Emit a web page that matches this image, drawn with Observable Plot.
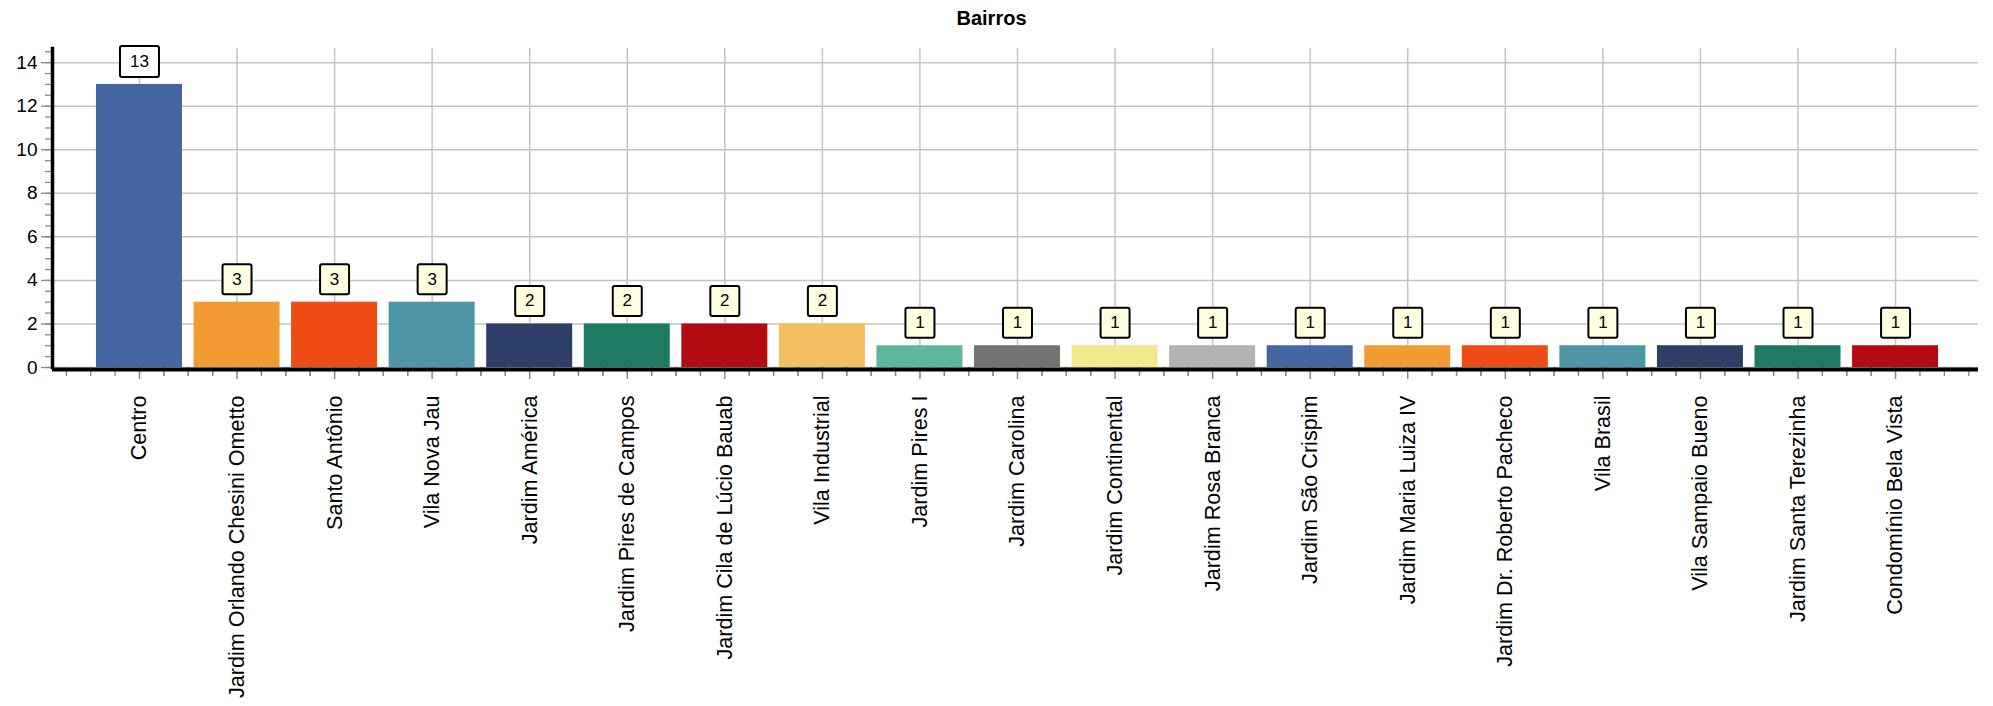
<!DOCTYPE html>
<html>
<head>
<meta charset="utf-8">
<script src="https://cdn.jsdelivr.net/npm/d3@7"></script>
<script src="https://cdn.jsdelivr.net/npm/@observablehq/plot@0.6"></script>
<style>
  body { margin: 0; background: #fff; }
  #wrap { position: relative; width: 1993px; height: 706px; }
  #title { position: absolute; top: 7px; left: 0; width: 1983px; text-align: center;
           font: bold 20px "Liberation Sans", Arial, sans-serif; color: #000; }
</style>
</head>
<body>
<div id="wrap"><div id="title">Bairros</div></div>
<script>
const names = ["Centro","Jardim Orlando Chesini Ometto","Santo Antônio","Vila Nova Jau","Jardim América","Jardim Pires de Campos","Jardim Cila de Lúcio Bauab","Vila Industrial","Jardim Pires I","Jardim Carolina","Jardim Continental","Jardim Rosa Branca","Jardim São Crispim","Jardim Maria Luiza IV","Jardim Dr. Roberto Pacheco","Vila Brasil","Vila Sampaio Bueno","Jardim Santa Terezinha","Condomínio Bela Vista"];
const values = [13,3,3,3,2,2,2,2,1,1,1,1,1,1,1,1,1,1,1];
const palette = ["#4466a3","#f29b34","#ef4c17","#4f97a8","#2d3f67","#1e7b63","#b30b12","#f2c061","#5db79d","#737373","#f2e88e","#b3b3b3"];
const yTicks = [0,2,4,6,8,10,12,14];
const yMinor = d3.range(0, 14.51, 0.5);

const data = names.map((name, i) => ({name, value: values[i]}));

const W = 1993, H = 706, ML = 52, MR = 15, MT = 48, MB = H - 367;
const PI = 0.1185, PO = 0.43, ALIGN = 0.524;
const step = (W - ML - MR) / (names.length - PI + 2 * PO);
const q = step / 4;

function box(w, h, r = 2) {
  return {
    draw(ctx) {
      const x0 = -w / 2, y0 = -h / 2, x1 = w / 2, y1 = h / 2;
      ctx.moveTo(x0 + r, y0);
      ctx.arcTo(x1, y0, x1, y1, r);
      ctx.arcTo(x1, y1, x0, y1, r);
      ctx.arcTo(x0, y1, x0, y0, r);
      ctx.arcTo(x0, y0, x1, y0, r);
      ctx.closePath();
    }
  };
}

const minorX = [-3, -2, -1, 1, 2, 3].map(k =>
  Plot.axisX({tickSize: 9, tickFormat: () => "", dx: k * q, stroke: "#888", strokeWidth: 1.3})
);

const chart = Plot.plot({
  width: W, height: H,
  marginLeft: ML, marginRight: MR, marginTop: MT, marginBottom: MB,
  style: {fontFamily: "Liberation Sans, Arial, sans-serif", fontSize: "19px", color: "#000", background: "#fff"},
  x: {domain: names, paddingInner: PI, paddingOuter: PO, align: ALIGN, round: false, label: null},
  y: {domain: [0, 14.65], label: null},
  color: {type: "ordinal", domain: names, range: palette},
  marks: [
    Plot.gridY({ticks: yTicks, stroke: "#c4c4c4", strokeOpacity: 1, strokeWidth: 1.5}),
    Plot.gridX({stroke: "#c4c4c4", strokeOpacity: 1, strokeWidth: 1.5}),
    Plot.barY(data, {x: "name", y: "value", fill: "name"}),
    Plot.axisY({ticks: yMinor, tickSize: 7, tickFormat: () => "", stroke: "#888", strokeWidth: 1.3}),
    Plot.axisY({ticks: yTicks, tickSize: 11, tickPadding: 4, fontSize: 19, stroke: "#888", strokeWidth: 1.3, label: null}),
    ...minorX,
    Plot.axisX({tickSize: 12, tickPadding: 16, tickRotate: -90, fontSize: 21.6, stroke: "#888", strokeWidth: 1.5, label: null}),
    Plot.ruleY([0], {dy: 2, stroke: "#000", strokeWidth: 4}),
    Plot.frame({anchor: "left", stroke: "#000", strokeWidth: 3.5}),
    Plot.dot(data.filter(d => String(d.value).length === 1), {x: "name", y: "value", dy: -23, symbol: box(29, 30), fill: "#ffffe0", stroke: "#000", strokeWidth: 2}),
    Plot.dot(data.filter(d => String(d.value).length > 1), {x: "name", y: "value", dy: -23, symbol: box(39, 31), fill: "#fff", stroke: "#000", strokeWidth: 2}),
    Plot.text(data, {x: "name", y: "value", dy: -23, text: d => String(d.value), fontSize: 17, fill: "#000"})
  ]
});
document.getElementById("wrap").appendChild(chart);
</script>
</body>
</html>
